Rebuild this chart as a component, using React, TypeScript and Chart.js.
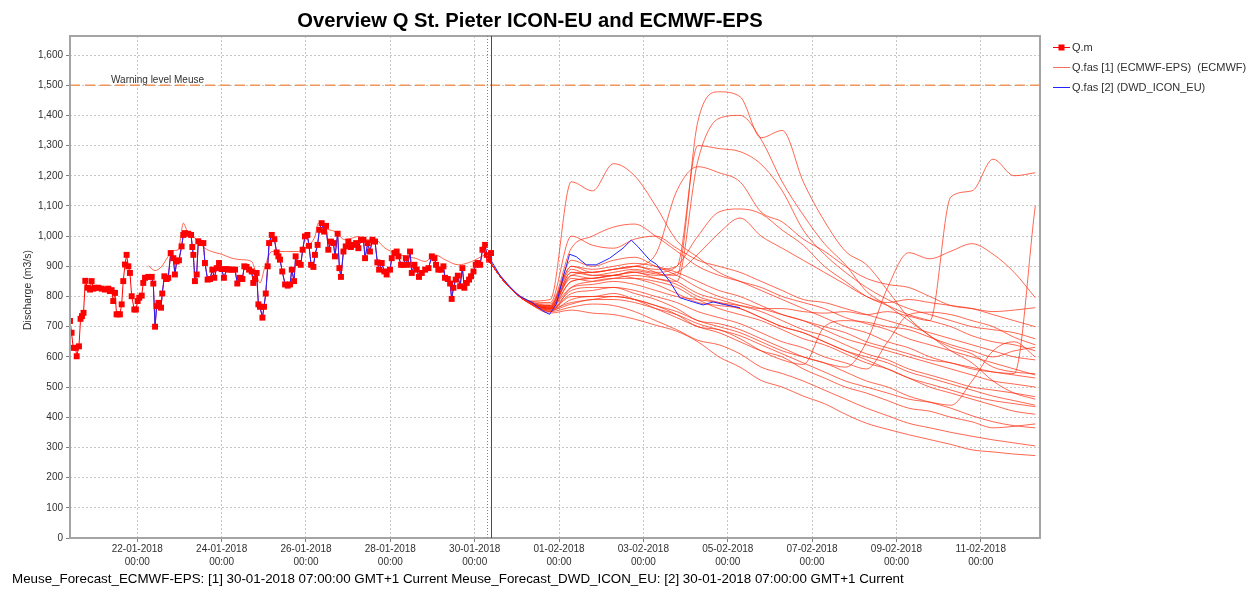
import React, { useEffect, useRef } from 'react';
import { Chart, registerables } from 'chart.js';

Chart.register(...registerables);

// ---------------- texts ----------------
const TITLE = 'Overview Q St. Pieter ICON-EU and ECMWF-EPS';
const Y_TITLE = 'Discharge (m3/s)';
const FOOTER =
  'Meuse_Forecast_ECMWF-EPS: [1] 30-01-2018 07:00:00 GMT+1 Current Meuse_Forecast_DWD_ICON_EU: [2] 30-01-2018 07:00:00 GMT+1 Current';
const WARNING_LABEL = 'Warning level Meuse';
const WARNING_LEVEL = 1500;
const legendLabels = ['Q.m', 'Q.fas [1] (ECMWF-EPS)  (ECMWF)', 'Q.fas [2] (DWD_ICON_EU)'];

// ---------------- axes (time in hours since 20-01-2018 00:00) ----------------
const X_MIN = 9.7;
const X_MAX = 561.7;
const Y_MIN = 0;
const Y_MAX = 1663;
const FORECAST_T0 = 247; // 30-01-2018 07:00
const NOW_H = 249; // 30-01-2018 09:00
const ECMWF_STEP_H = 12;
const ICON_HINDCAST_START = 54;

const xTickDates = [
  '22-01-2018', '24-01-2018', '26-01-2018', '28-01-2018', '30-01-2018', '01-02-2018',
  '03-02-2018', '05-02-2018', '07-02-2018', '09-02-2018', '11-02-2018',
];
const xTickTime = '00:00';
const yTickValues = [0, 100, 200, 300, 400, 500, 600, 700, 800, 900, 1000, 1100, 1200, 1300, 1400, 1500, 1600];

// ---------------- observed Q.m ----------------
const obsHours = [
  9.7, 10.6, 11.5, 12.9, 13.5, 14.8, 15.7, 16.5, 17.4, 18.4, 19.7, 21.1, 22.0, 23.0, 23.9, 25.8, 27.7, 29.6,
  31.5, 32.4, 33.4, 34.3, 35.3, 36.2, 37.2, 38.1, 39.1, 40.0, 41.0, 41.9, 42.9, 43.8, 44.8, 46.3, 47.2, 48.2,
  49.1, 50.5, 51.4, 52.4, 54.3, 56.2, 57.1, 58.1, 59.0, 60.0, 61.5, 62.2, 63.4, 64.7, 65.6, 67.0, 68.5, 69.4,
  70.4, 71.7, 73.2, 74.2, 75.1, 77.0, 78.6, 79.3, 79.9, 80.8, 81.8, 82.7, 84.2, 85.6, 86.5, 88.0, 89.4, 90.7,
  91.8, 93.2, 94.5, 96.0, 97.3, 98.9, 100.2, 101.7, 103.6, 104.9, 106.4, 107.8, 108.9, 110.2, 111.6, 113.1,
  114.0, 115.0, 115.9, 116.9, 117.8, 119.2, 120.1, 121.1, 122.2, 123.0, 124.5, 126.0, 127.3, 128.3, 129.2,
  130.5, 132.1, 133.6, 134.9, 135.9, 137.2, 138.1, 139.7, 141.0, 142.1, 143.4, 144.8, 145.7, 146.9, 148.2,
  149.1, 150.6, 151.6, 152.9, 154.3, 155.4, 156.7, 158.2, 159.6, 160.5, 162.0, 163.0, 163.9, 165.3, 166.6,
  168.1, 169.6, 171.0, 172.5, 173.8, 175.3, 176.7, 177.6, 179.1, 180.4, 181.8, 183.3, 184.6, 185.6, 187.1,
  188.6, 189.9, 191.8, 192.8, 194.3, 195.6, 196.6, 198.1, 199.4, 200.8, 201.9, 203.2, 204.2, 205.7, 207.0,
  208.3, 209.9, 211.8, 213.7, 215.6, 217.1, 218.0, 219.3, 220.9, 222.2, 223.1, 224.7, 226.0, 226.9, 227.9,
  229.2, 230.4, 231.7, 233.0, 234.1, 235.5, 236.8, 237.9, 239.3, 240.6, 241.7, 243.1, 244.4, 245.9, 246.9,
  248.2, 249.3,
];
const obsValues = [
  719, 680, 630, 630, 602, 635, 726, 735, 746, 852, 829, 823, 851, 826, 829, 829, 826, 823,
  826, 818, 821, 785, 812, 741, 741, 741, 774, 851, 906, 938, 900, 878, 801, 757, 757, 785,
  796, 803, 845, 862, 865, 865, 843, 700, 768, 779, 763, 810, 867, 858, 862, 944, 927, 873,
  916, 920, 966, 1004, 1010, 1008, 1004, 964, 938, 851, 873, 983, 977, 977, 911, 856, 858, 889,
  862, 894, 911, 891, 862, 891, 889, 889, 889, 843, 862, 858, 900, 898, 889, 883,
  845, 858, 878, 774, 766, 730, 766, 810, 900, 977, 1004, 990, 946, 933, 922,
  883, 840, 836, 840, 889, 851, 933, 911, 905, 955, 999, 1004, 968, 905, 898,
  938, 971, 1021, 1043, 1015, 1034, 955, 982, 977, 933, 1008, 894, 865, 949, 966,
  982, 964, 971, 977, 960, 988, 988, 927, 977, 949, 988, 982, 913, 889, 911,
  883, 873, 889, 927, 944, 949, 933, 905, 905, 927, 905, 949, 878, 905, 889,
  865, 878, 889, 894, 933, 927, 905, 889, 889, 900, 862, 858, 843, 792, 829,
  856, 869, 834, 894, 829, 845, 856, 867, 883, 905, 911, 905, 955, 971, 938,
  922, 944,
];

// ---------------- ECMWF hindcast (history part of Q.fas [1]) ----------------
const ecmwfHindHours = [
  54.3, 58.1, 61.9, 65.6, 68.5, 71.3, 74.2, 76.1, 78.9, 82.7, 86.5, 90.3, 96.0, 101.7, 107.4, 113.1, 115.0,
  117.8, 120.7, 124.5, 132.1, 139.7, 144.4, 149.1, 151.0, 154.8, 160.5, 166.2, 170.0, 173.8, 177.6, 183.3,
  189.0, 194.7, 200.4, 206.1, 211.8, 217.4, 223.1, 230.7, 238.3, 244.0, 247.8,
];
const ecmwfHindValues = [
  902, 886, 900, 933, 952, 955, 1043, 1021, 1004, 983, 960, 949, 940, 927, 922, 916, 889,
  845, 900, 949, 949, 949, 966, 999, 1043, 1026, 1015, 988, 993, 999, 988, 988,
  960, 944, 933, 927, 916, 938, 922, 905, 916, 933, 944,
];

// ---------------- ICON-EU forecast (Q.fas [2]) ----------------
const iconFcHours = [
  248.5, 254.2, 259.8, 265.5, 273.1, 278.8, 282.6, 286.4, 290.2, 294.0, 297.8, 303.5, 309.2, 316.8, 324.4,
  329.1, 332.9, 339.6, 343.4, 351.0, 356.7, 364.3, 370.0, 375.7, 381.4, 390.9,
];
const iconFcValues = [
  927, 872, 834, 801, 779, 752, 741, 774, 861, 940, 932, 905, 905, 927, 960,
  987, 965, 921, 907, 850, 796, 782, 772, 782, 774, 763,
];

// ---------------- ECMWF-EPS members (12-hourly from 30-01-2018 07:00) ----------------
const ens01 = [927, 835, 785, 790, 1180, 1150, 1240, 1200, 1100, 985, 930, 880, 850, 820, 790, 760, 730, 700, 680, 650, 630, 600, 580, 565, 550, 540, 530];
const ens02 = [927, 835, 780, 760, 880, 870, 870, 885, 875, 870, 1380, 1478, 1462, 1326, 1350, 1180, 1050, 950, 905, 820, 730, 670, 632, 610, 566, 550, 544];
const ens03 = [927, 835, 778, 765, 860, 850, 860, 870, 860, 850, 1250, 1390, 1400, 1320, 1180, 1070, 975, 905, 817, 770, 720, 670, 620, 580, 520, 480, 460];
const ens04 = [927, 835, 780, 770, 900, 880, 890, 900, 890, 900, 1300, 1290, 1280, 1238, 1150, 1020, 940, 880, 830, 790, 760, 740, 720, 700, 690, 680, 660];
const ens05 = [927, 835, 780, 765, 870, 880, 890, 900, 940, 1150, 1230, 1210, 1180, 1080, 1047, 990, 950, 900, 860, 840, 830, 800, 770, 760, 750, 755, 763];
const ens06 = [927, 835, 780, 770, 890, 870, 880, 890, 880, 900, 1000, 1080, 1090, 1074, 1020, 970, 900, 850, 800, 770, 740, 720, 700, 670, 650, 640, 620];
const ens07 = [927, 835, 780, 765, 850, 860, 870, 880, 870, 880, 940, 1010, 1060, 1000, 960, 920, 880, 840, 800, 780, 790, 780, 770, 760, 740, 720, 700];
const ens08 = [927, 835, 782, 775, 960, 1000, 1030, 1040, 1000, 950, 900, 870, 850, 830, 800, 780, 760, 730, 710, 690, 660, 640, 620, 600, 580, 560, 540];
const ens09 = [927, 835, 785, 780, 1000, 970, 960, 990, 1000, 960, 920, 900, 880, 850, 820, 790, 780, 760, 740, 720, 700, 680, 660, 640, 620, 600, 590];
const ens10 = [927, 835, 780, 765, 920, 900, 920, 930, 900, 870, 830, 800, 780, 760, 740, 720, 690, 660, 640, 620, 600, 580, 560, 540, 520, 510, 500];
const ens11 = [927, 835, 780, 760, 870, 860, 870, 880, 860, 840, 800, 780, 760, 730, 700, 680, 650, 620, 600, 580, 550, 530, 510, 490, 470, 455, 440];
const ens12 = [927, 835, 778, 750, 830, 850, 860, 860, 850, 830, 790, 760, 740, 720, 690, 660, 640, 610, 580, 560, 530, 500, 480, 460, 440, 420, 410];
const ens13 = [927, 835, 780, 758, 850, 860, 870, 860, 840, 810, 780, 770, 760, 730, 700, 680, 650, 620, 590, 560, 530, 510, 490, 470, 455, 445, 435];
const ens14 = [927, 835, 782, 762, 880, 880, 890, 900, 880, 850, 810, 790, 770, 750, 720, 690, 670, 640, 610, 590, 560, 540, 520, 500, 490, 480, 468];
const ens15 = [927, 835, 778, 745, 755, 745, 740, 725, 705, 685, 650, 600, 566, 522, 500, 470, 445, 410, 380, 360, 342, 326, 310, 292, 285, 278, 273];
const ens16 = [927, 835, 780, 750, 765, 775, 770, 750, 720, 690, 655, 640, 610, 566, 545, 520, 490, 460, 430, 405, 380, 365, 350, 337, 325, 315, 305];
const ens17 = [927, 835, 780, 755, 800, 800, 810, 790, 760, 730, 700, 680, 650, 620, 600, 560, 530, 500, 480, 455, 430, 420, 400, 385, 365, 370, 378];
const ens18 = [927, 835, 782, 760, 820, 830, 830, 810, 790, 760, 720, 710, 690, 660, 630, 600, 580, 550, 520, 500, 470, 450, 430, 405, 385, 372, 365];
const ens19 = [927, 835, 782, 765, 830, 840, 850, 840, 820, 800, 790, 780, 770, 760, 760, 750, 745, 750, 740, 750, 735, 720, 1130, 1150, 1255, 1200, 1210];
const ens20 = [927, 835, 785, 770, 900, 890, 900, 910, 900, 880, 850, 820, 800, 770, 740, 720, 700, 680, 650, 630, 610, 590, 580, 560, 550, 545, 1100];
const ens21 = [927, 835, 780, 760, 780, 790, 800, 790, 770, 750, 720, 700, 680, 650, 620, 600, 580, 566, 650, 830, 945, 925, 950, 975, 940, 880, 796];
const ens22 = [927, 835, 778, 752, 790, 800, 800, 790, 770, 740, 700, 690, 660, 620, 590, 575, 700, 720, 715, 700, 690, 665, 640, 620, 600, 620, 632];
const ens23 = [927, 835, 780, 758, 810, 820, 830, 820, 800, 780, 750, 730, 710, 680, 650, 630, 600, 580, 560, 650, 740, 748, 740, 720, 700, 665, 640];
const ens24 = [927, 835, 779, 755, 775, 790, 790, 780, 760, 740, 710, 690, 670, 640, 610, 580, 550, 520, 500, 480, 460, 450, 440, 520, 620, 650, 600];
const ecmwfMembers = [
  ens01, ens02, ens03, ens04, ens05, ens06, ens07, ens08, ens09, ens10, ens11, ens12,
  ens13, ens14, ens15, ens16, ens17, ens18, ens19, ens20, ens21, ens22, ens23, ens24,
];

// ---------------- styles ----------------
const FONT = '"Liberation Sans", Arial, sans-serif';
const QM_COLOR = '#ff0000';
const ECMWF_COLOR = 'rgba(255, 45, 15, 0.72)';
const ICON_COLOR = 'rgb(35, 35, 255)';
const WARN_COLOR = 'rgb(240, 150, 90)';
const GRID_COLOR = '#c6c6c6';
const TEXT_COLOR = '#303030';

function hoursFromDate(d: string): number {
  const [dd, mm, yyyy] = d.split('-').map(Number);
  return (Date.UTC(yyyy, mm - 1, dd) - Date.UTC(2018, 0, 20)) / 3600000;
}
const toXY = (hours: number[], vals: number[]) => hours.map((h, i) => ({ x: h, y: vals[i] }));

function fitFontSize(ctx: CanvasRenderingContext2D, text: string, weight: string, target: number) {
  ctx.font = `${weight} 20px ${FONT}`;
  const w = ctx.measureText(text).width;
  return (20 * target) / w;
}

const overlayPlugin = {
  id: 'overlay',
  afterDatasetsDraw(chart: any) {
    const { ctx, chartArea: a, scales } = chart;
    const y = scales.y;
    ctx.save();
    ctx.fillStyle = TEXT_COLOR;
    ctx.font = `10px ${FONT}`;
    ctx.textAlign = 'left';
    ctx.textBaseline = 'alphabetic';
    ctx.fillText(WARNING_LABEL, a.left + 41, y.getPixelForValue(WARNING_LEVEL) - 2);
    ctx.restore();
  },
  afterDraw(chart: any) {
    const { ctx, chartArea: a, scales } = chart;
    const x = scales.x;
    ctx.save();
    // plot border
    ctx.strokeStyle = '#a4a4a4';
    ctx.lineWidth = 2;
    ctx.setLineDash([]);
    ctx.strokeRect(a.left, a.top, a.right - a.left, a.bottom - a.top);

    // forecast time (dotted)
    const xt = Math.round(x.getPixelForValue(FORECAST_T0)) + 0.5;
    ctx.strokeStyle = 'rgb(128, 128, 128)';
    ctx.lineWidth = 1;
    ctx.setLineDash([1, 2]);
    ctx.beginPath();
    ctx.moveTo(xt, a.top);
    ctx.lineTo(xt, a.bottom);
    ctx.stroke();
    // current time (red)
    const xn = Math.round(x.getPixelForValue(NOW_H)) + 0.5;
    ctx.setLineDash([]);
    ctx.strokeStyle = 'rgb(255, 0, 0)';
    ctx.lineWidth = 1;
    ctx.beginPath();
    ctx.moveTo(xn, a.top);
    ctx.lineTo(xn, a.bottom);
    ctx.stroke();

    // title
    const tSize = fitFontSize(ctx, TITLE, 'bold', 466);
    ctx.font = `bold ${tSize}px ${FONT}`;
    ctx.fillStyle = '#000';
    ctx.textAlign = 'center';
    ctx.textBaseline = 'alphabetic';
    ctx.fillText(TITLE, 530, 27);

    // y title
    ctx.save();
    ctx.translate(28, (a.top + a.bottom) / 2 + 3);
    ctx.rotate(-Math.PI / 2);
    ctx.font = `10.5px ${FONT}`;
    ctx.fillStyle = TEXT_COLOR;
    ctx.textAlign = 'center';
    ctx.textBaseline = 'middle';
    ctx.fillText(Y_TITLE, 0, 0);
    ctx.restore();

    // footer
    const fSize = fitFontSize(ctx, FOOTER, 'normal', 893);
    ctx.font = `${fSize}px ${FONT}`;
    ctx.fillStyle = '#000';
    ctx.textAlign = 'left';
    ctx.textBaseline = 'alphabetic';
    ctx.fillText(FOOTER, 12, 583);

    // legend
    const items = [
      { label: legendLabels[0], color: QM_COLOR, marker: true },
      { label: legendLabels[1], color: 'rgb(248, 110, 90)', marker: false },
      { label: legendLabels[2], color: ICON_COLOR, marker: false },
    ];
    const lx = a.right + 13;
    items.forEach((it, i) => {
      const ly = Math.round(a.top + 11 + i * 20) + 0.5;
      ctx.setLineDash([]);
      ctx.strokeStyle = it.color;
      ctx.lineWidth = 1;
      ctx.beginPath();
      ctx.moveTo(lx, ly);
      ctx.lineTo(lx + 17, ly);
      ctx.stroke();
      if (it.marker) {
        ctx.fillStyle = it.color;
        ctx.fillRect(lx + 5.5, ly - 3, 6, 6);
      }
      ctx.fillStyle = TEXT_COLOR;
      ctx.font = `11px ${FONT}`;
      ctx.textAlign = 'left';
      ctx.textBaseline = 'middle';
      ctx.fillText(it.label, lx + 19, ly);
    });
    ctx.restore();
  },
};

export default function App() {
  const ref = useRef<HTMLCanvasElement | null>(null);

  useEffect(() => {
    document.body.style.margin = '0';
    const canvas = ref.current;
    if (!canvas) return;

    const ensHours = ecmwfMembers[0].map((_, i) => FORECAST_T0 + ECMWF_STEP_H * i);
    const obsXY = toXY(obsHours, obsValues);
    const iconXY = obsXY.filter((p) => p.x >= ICON_HINDCAST_START).concat(toXY(iconFcHours, iconFcValues));

    const lineBase = { pointRadius: 0, borderWidth: 1, fill: false, tension: 0 };
    const datasets: any[] = [];
    datasets.push({
      ...lineBase,
      label: 'warning',
      data: [
        { x: X_MIN, y: WARNING_LEVEL },
        { x: X_MAX, y: WARNING_LEVEL },
      ],
      borderColor: WARN_COLOR,
      borderWidth: 1.5,
      borderDash: [10, 5],
      order: 9,
    });
    datasets.push({
      ...lineBase,
      label: 'ecmwf-hind',
      data: toXY(ecmwfHindHours, ecmwfHindValues),
      borderColor: ECMWF_COLOR,
      cubicInterpolationMode: 'monotone',
      order: 6,
    });
    ecmwfMembers.forEach((m, k) => {
      datasets.push({
        ...lineBase,
        label: 'ecmwf-' + (k + 1),
        data: toXY(ensHours, m),
        borderColor: ECMWF_COLOR,
        cubicInterpolationMode: 'monotone',
        order: 5,
      });
    });
    datasets.push({
      ...lineBase,
      label: 'Q.m line',
      data: obsXY,
      borderColor: QM_COLOR,
      order: 3,
    });
    datasets.push({
      ...lineBase,
      label: 'ICON',
      data: iconXY,
      borderColor: ICON_COLOR,
      order: 2,
    });
    datasets.push({
      label: 'Q.m',
      data: obsXY,
      showLine: false,
      pointStyle: 'rect',
      pointRadius: 4.2,
      pointBorderWidth: 0,
      pointBackgroundColor: QM_COLOR,
      pointBorderColor: QM_COLOR,
      order: 0,
    });

    const chart = new Chart(canvas, {
      type: 'line',
      data: { datasets },
      options: {
        animation: false,
        responsive: false,
        devicePixelRatio: 1,
        events: [],
        layout: { padding: { top: 36, right: 216, left: 0, bottom: 0 } },
        plugins: {
          legend: { display: false },
          title: { display: false },
          tooltip: { enabled: false },
        },
        scales: {
          x: {
            type: 'linear',
            min: X_MIN,
            max: X_MAX,
            afterBuildTicks: (s: any) => {
              s.ticks = xTickDates.map((d) => ({ value: hoursFromDate(d) }));
            },
            afterFit: (s: any) => {
              s.height = 51;
            },
            grid: {
              color: GRID_COLOR,
              lineWidth: 1,
              drawTicks: true,
              tickLength: 4,
              tickColor: '#808080',
            },
            border: { display: false, dash: [2, 2] },
            ticks: {
              autoSkip: false,
              maxRotation: 0,
              minRotation: 0,
              padding: 1,
              color: TEXT_COLOR,
              font: { family: FONT, size: 10, lineHeight: 1.3 },
              callback: (_v: any, i: number) => [xTickDates[i], xTickTime],
            },
          },
          y: {
            type: 'linear',
            min: Y_MIN,
            max: Y_MAX,
            afterBuildTicks: (s: any) => {
              s.ticks = yTickValues.map((v) => ({ value: v }));
            },
            afterFit: (s: any) => {
              s.width = 70;
            },
            grid: {
              color: GRID_COLOR,
              lineWidth: 1,
              drawTicks: true,
              tickLength: 4,
              tickColor: '#808080',
            },
            border: { display: false, dash: [2, 2] },
            ticks: {
              padding: 3,
              color: TEXT_COLOR,
              font: { family: FONT, size: 10 },
              callback: (v: any) => Number(v).toLocaleString('en-US'),
            },
          },
        },
      } as any,
      plugins: [overlayPlugin],
    });

    return () => chart.destroy();
  }, []);

  return (
    <div style={{ width: 1256, height: 589, background: '#fff' }}>
      <canvas ref={ref} width={1256} height={589} style={{ display: 'block' }} />
    </div>
  );
}
